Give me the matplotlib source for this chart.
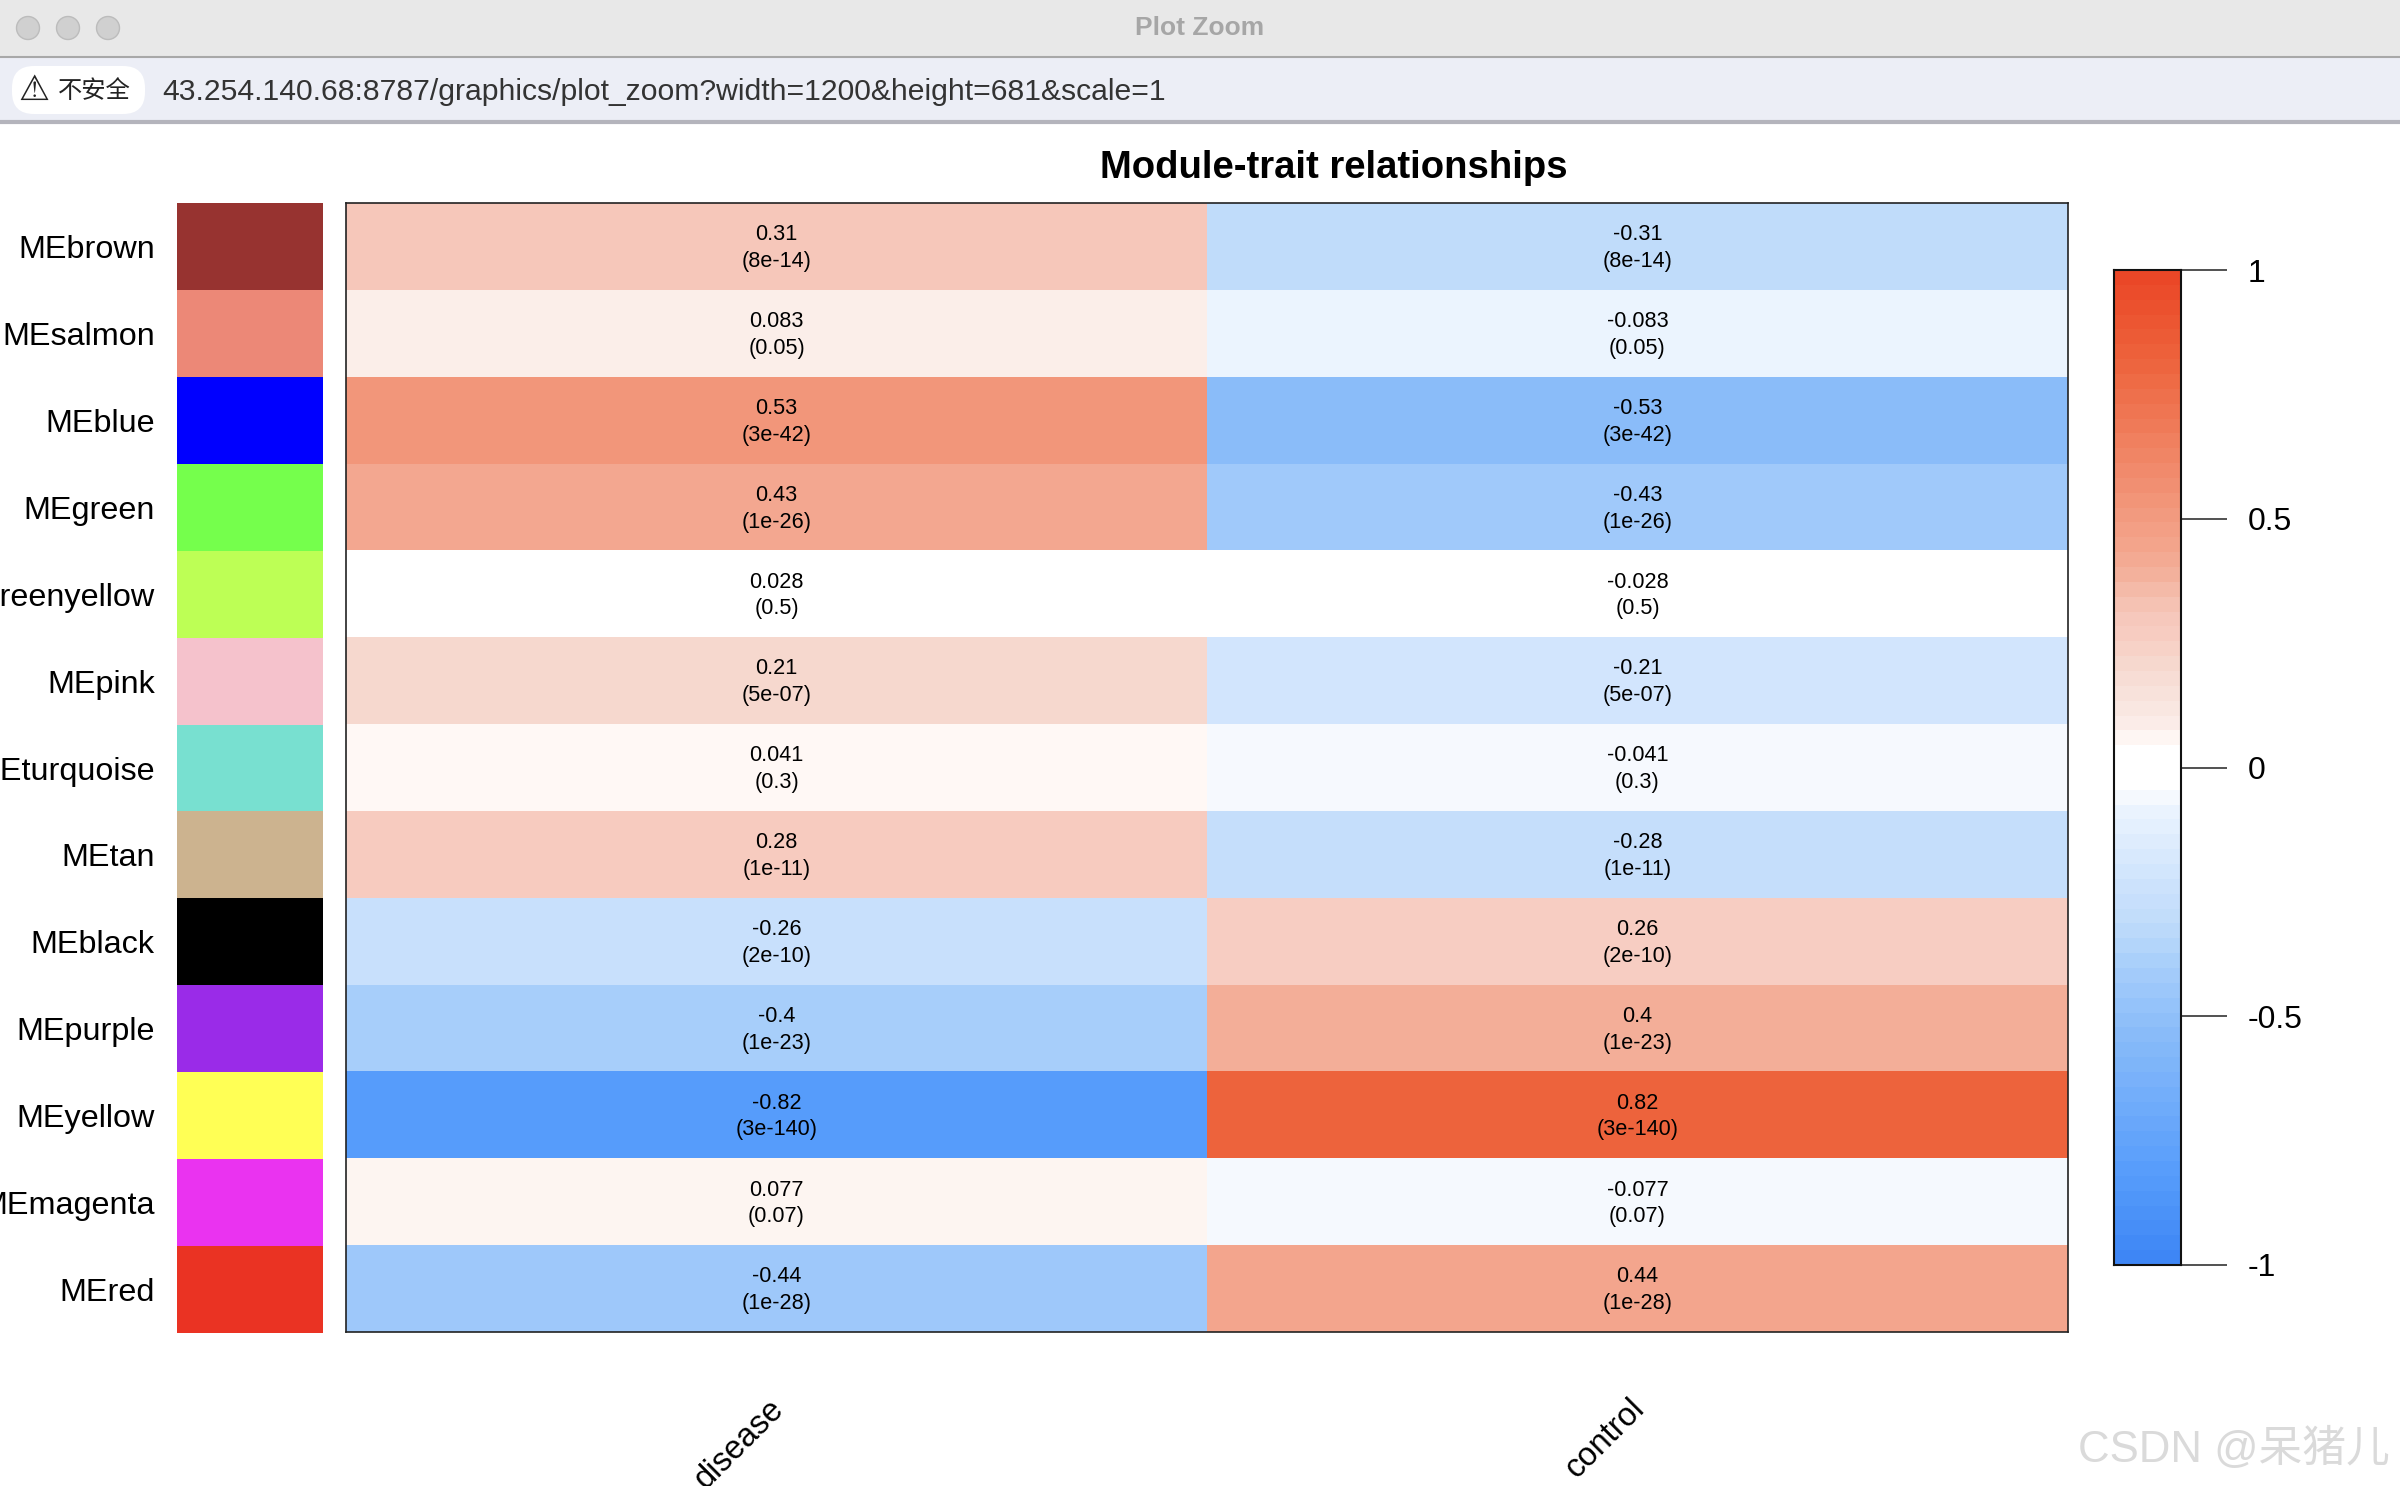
import numpy as np
import matplotlib
matplotlib.use("Agg")
import matplotlib.pyplot as plt
from matplotlib.colors import LinearSegmentedColormap, ListedColormap
from matplotlib.patches import Rectangle, Circle, FancyBboxPatch

# data
modules = ["MEbrown", "MEsalmon", "MEblue", "MEgreen", "MEgreenyellow", "MEpink", "MEturquoise",
           "MEtan", "MEblack", "MEpurple", "MEyellow", "MEmagenta", "MEred"]
module_colors = ["#973330", "#ec8877", "#0000ff", "#75ff4c", "#bdff55", "#f5c2cc", "#78e0d0",
                 "#ccb38f", "#000000", "#9a2be8", "#ffff55", "#ea33f0", "#ea3323"]
traits = ["disease", "control"]
disease_cor = ["0.31", "0.083", "0.53", "0.43", "0.028", "0.21", "0.041",
               "0.28", "-0.26", "-0.4", "-0.82", "0.077", "-0.44"]
control_cor = ["-0.31", "-0.083", "-0.53", "-0.43", "-0.028", "-0.21", "-0.041",
               "-0.28", "0.26", "0.4", "0.82", "-0.077", "0.44"]
pvalues = ["8e-14", "0.05", "3e-42", "1e-26", "0.5", "5e-07", "0.3",
           "1e-11", "2e-10", "1e-23", "3e-140", "0.07", "1e-28"]
legend_ticks = [-1, -0.5, 0, 0.5, 1]
legend_labels = ["-1", "-0.5", "0", "0.5", "1"]

scale_vals = [-1, -0.82, -0.53, -0.44, -0.4, -0.31, -0.26, -0.08, -0.077, -0.036, -0.032, 0.032, 0.036,
              0.077, 0.08, 0.21, 0.26, 0.31, 0.4, 0.44, 0.53, 0.82, 1]
scale_cols = ["#3c84f5", "#569cfb", "#8abcf9", "#9ec8fa", "#a7cefa", "#c0dcfa", "#c8e0fc", "#ecf4fe",
              "#f5f9fe", "#f6f9fe", "#ffffff", "#ffffff", "#fff8f5", "#fdf5f1", "#fbeeea",
              "#f6d8ce", "#f7cdc2", "#f6c7ba", "#f3ae98", "#f3a58d", "#f2967a", "#ed633c", "#ea4525"]
scale_pos = [(v + 1) / 2 for v in scale_vals]
n_levels = 67
cmap = LinearSegmentedColormap.from_list("bwr_wgcna", list(zip(scale_pos, scale_cols)), N=2048)

W, H = 2400, 1486
plt.rcParams["font.family"] = ["Liberation Sans", "Noto Sans CJK SC", "DejaVu Sans"]
fig = plt.figure(figsize=(W / 100, H / 100), dpi=100, facecolor="white")


def px_axes(x0, y0, x1, y1):
    return fig.add_axes([x0 / W, 1 - y1 / H, (x1 - x0) / W, (y1 - y0) / H])


# window chrome, in pixel coordinates
chrome = fig.add_axes([0, 0, 1, 1])
chrome.set_xlim(0, W)
chrome.set_ylim(H, 0)
chrome.axis("off")
chrome.add_patch(Rectangle((0, 0), W, 57, fc="#e8e8e8", ec="none"))
chrome.add_patch(Rectangle((0, 57), W, 65, fc="#eceef6", ec="none"))
chrome.plot([0, W], [56.5, 56.5], color="#a8a8a8", lw=1.5)
chrome.plot([0, W], [122, 122], color="#b4b4bc", lw=3)
for cx in [28, 68, 108]:
    chrome.add_patch(Circle((cx, 28), 11.5, fc="#d0d0d0", ec="#bcbcbc", lw=1))
chrome.add_patch(FancyBboxPatch((12, 66), 133, 48, boxstyle="round,pad=0,rounding_size=22",
                                fc="white", ec="none"))
chrome.text(34, 90, "⚠", ha="center", va="center", fontsize=25, color="#222222", family=["DejaVu Sans"])
chrome.text(94, 91, "不安全", ha="center", va="center", fontsize=17.5, color="#222222",
            family=["Noto Sans CJK SC"])
chrome.text(1200, 28, "Plot Zoom", ha="center", va="center", fontsize=19, fontweight="bold", color="#a6a6a6")
chrome.text(162, 92, "43.254.140.68:8787/graphics/plot_zoom?width=1200&height=681&scale=1",
            ha="left", va="center", fontsize=21.7, color="#333333")
chrome.text(1334, 168, "Module-trait relationships", ha="center", va="center", fontsize=27.5, fontweight="bold")
chrome.text(2078, 1449, "CSDN @呆猪儿", ha="left", va="center", fontsize=31.5, color="#dadada",
            family=["Liberation Sans", "Noto Sans CJK SC"])

# module colour column
ax_col = px_axes(177, 203, 323, 1333)
ax_col.pcolormesh(np.arange(len(modules)).reshape(-1, 1), cmap=ListedColormap(module_colors),
                  vmin=-0.5, vmax=len(modules) - 0.5)
ax_col.set_ylim(len(modules), 0)
ax_col.set_xticks([])
ax_col.set_yticks(np.arange(len(modules)) + 0.5)
ax_col.set_yticklabels(modules, fontsize=23.3)
ax_col.tick_params(axis="y", length=0, pad=16)
for s in ax_col.spines.values():
    s.set_visible(False)

# heatmap
cor = np.array([[float(d), float(c)] for d, c in zip(disease_cor, control_cor)])
ax = px_axes(346, 203, 2068, 1332)
ax.pcolormesh(cor, cmap=cmap, vmin=-1, vmax=1)
ax.set_ylim(len(modules), 0)
ax.set_xlim(0, len(traits))
ax.set_yticks([])
ax.set_xticks(np.arange(len(traits)) + 0.5)
ax.set_xticklabels([])
ax.tick_params(axis="x", length=0)
for s in ax.spines.values():
    s.set_linewidth(1.2)
    s.set_color("#222222")
for i in range(len(modules)):
    for j, vals in enumerate([disease_cor, control_cor]):
        ax.annotate(vals[i] + "\n(" + pvalues[i] + ")", xy=(j + 0.5, i + 0.5), xytext=(0, -1.2),
                    textcoords="offset points", ha="center", va="center",
                    fontsize=15.6, color="black", linespacing=1.36)
for j, name in enumerate(traits):
    ax.annotate(name, xy=(j + 0.5, len(modules)), xycoords="data", xytext=(-6, -44),
                textcoords="offset points", rotation=45, rotation_mode="anchor",
                ha="right", va="top", fontsize=23.5, annotation_clip=False)

# legend bar, stepped like the reference
ax_leg = px_axes(2114, 270, 2181, 1265)
levels = np.linspace(-1, 1, n_levels + 1)
ax_leg.pcolormesh([0, 1], levels, ((levels[:-1] + levels[1:]) / 2).reshape(-1, 1), cmap=cmap, vmin=-1, vmax=1)
ax_leg.set_xticks([])
ax_leg.yaxis.tick_right()
ax_leg.set_yticks(legend_ticks)
ax_leg.set_yticklabels(legend_labels, fontsize=23)
ax_leg.tick_params(axis="y", length=33, width=1.2, pad=15, color="#333333")
for s in ax_leg.spines.values():
    s.set_linewidth(1.5)
    s.set_color("#111111")

fig.savefig("out.png", dpi=100)
